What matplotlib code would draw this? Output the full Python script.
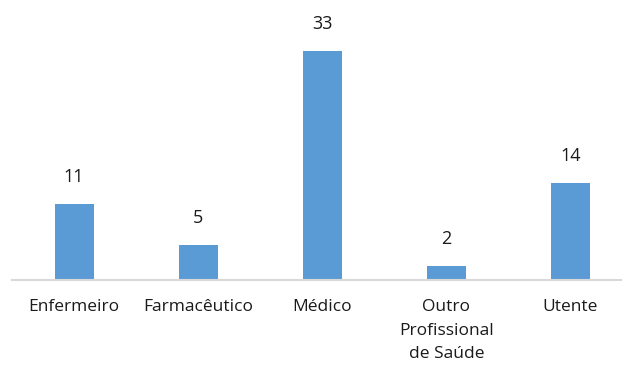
import matplotlib.pyplot as plt

# data
categories = ["Enfermeiro", "Farmacêutico", "Médico", "Outro\nProfissional\nde Saúde", "Utente"]
values = [11, 5, 33, 2, 14]

BAR_COLOR = "#5B9BD5"
TEXT_COLOR = "#1a1a1a"

plt.rcParams["font.family"] = ["Open Sans", "DejaVu Sans"]

fig = plt.figure(figsize=(6.22, 3.67), dpi=100)
ax = fig.add_axes([12 / 622, 87 / 367, 610 / 622, 243 / 367])

x = list(range(len(categories)))
bars = ax.bar(x, values, width=0.315, color=BAR_COLOR, zorder=2)

ax.set_xlim(-0.5, 4.415)
ax.set_ylim(0, 35)

for spine in ["top", "right", "left"]:
    ax.spines[spine].set_visible(False)
ax.spines["bottom"].set_color("#d9d9d9")
ax.spines["bottom"].set_linewidth(1.5)

ax.set_yticks([])
ax.set_xticks(x)
ax.set_xticklabels(categories, fontsize=12.5, color=TEXT_COLOR, linespacing=1.6, va="top")
ax.tick_params(axis="x", length=0, pad=14)

for b, v in zip(bars, values):
    ax.annotate(str(v), (b.get_x() + b.get_width() / 2, v),
                xytext=(0, 13), textcoords="offset points",
                ha="center", va="bottom", fontsize=13, color=TEXT_COLOR)

plt.savefig("out.png", dpi=100)
plt.close()
